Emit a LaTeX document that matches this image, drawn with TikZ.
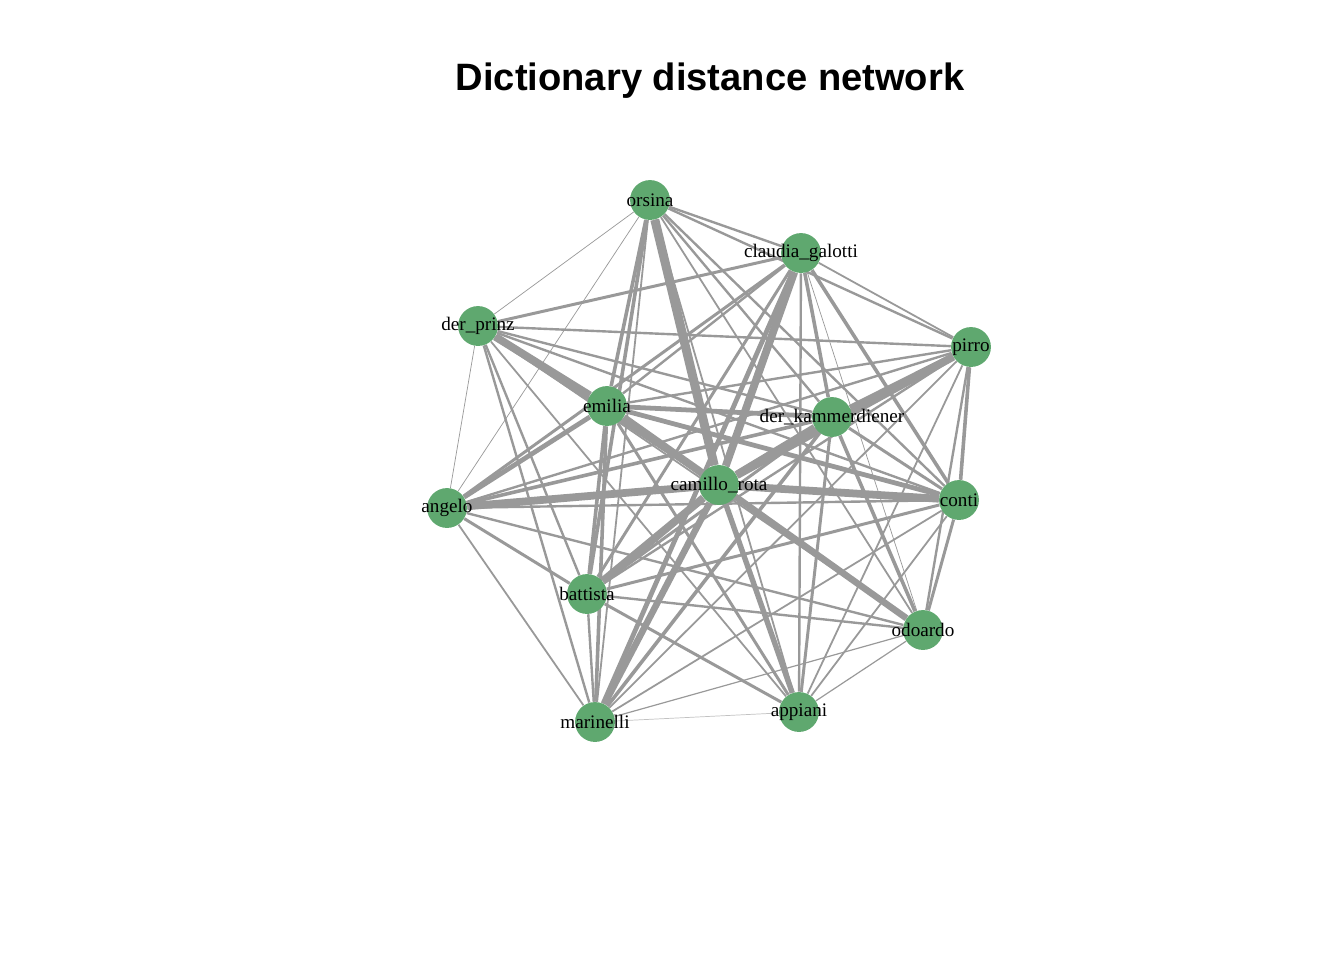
\documentclass[tikz,border=0pt]{standalone}
\usepackage{fontspec}
\setmainfont{Liberation Serif}
\newfontfamily\titlefont{Liberation Sans}
\usepackage{tikz}
\usetikzlibrary{backgrounds,positioning}
\definecolor{vertgreen}{RGB}{95,168,111}
\definecolor{edgegray}{RGB}{153,153,153}
\tikzset{
	vert/.style={circle,inner sep=0,fill=vertgreen,draw=none,minimum size=40*0.567pt},
	vlabel/.style={font=\fontsize{10.9}{12}\selectfont,inner sep=0},
	link/.style={draw=edgegray,line width=#1*0.68pt},
	titlelabel/.style={font=\titlefont\bfseries\fontsize{21.7}{24}\selectfont}
}
\begin{document}
\begin{tikzpicture}[x=0.02cm,y=-0.02cm]
\useasboundingbox (0,0) rectangle (1344,960);

\node[titlelabel] (title) at (710,81) {Dictionary distance network};

    \node[vert,label={[vlabel]center:orsina}] (O) at (650,200) {};
    \node[vert,label={[vlabel]center:claudia\_galotti}] (C) at (801,253) {};
    \node[vert,label={[vlabel]center:der\_prinz}] (P) at (478,326) {};
    \node[vert,label={[vlabel]center:pirro}] (Pi) at (971,347) {};
    \node[vert,label={[vlabel]center:emilia}] (E) at (607,406) {};
    \node[vert,label={[vlabel]center:der\_kammerdiener}] (K) at (832,417) {};
    \node[vert,label={[vlabel]center:camillo\_rota}] (R) at (719,485) {};
    \node[vert,label={[vlabel]center:angelo}] (A) at (447,508) {};
    \node[vert,label={[vlabel]center:conti}] (Co) at (959,500) {};
    \node[vert,label={[vlabel]center:battista}] (B) at (587,594) {};
    \node[vert,label={[vlabel]center:odoardo}] (Od) at (923,630) {};
    \node[vert,label={[vlabel]center:marinelli}] (M) at (595,722) {};
    \node[vert,label={[vlabel]center:appiani}] (Ap) at (799,712) {};

\begin{scope}[on background layer]
    % orsina
    \draw[link=2] (O) -- (C);
    \draw[link=0.6] (O) -- (P);
    \draw[link=2] (O) -- (Pi);
    \draw[link=3] (O) -- (E);
    \draw[link=2] (O) -- (K);
    \draw[link=7.5] (O) -- (R);
    \draw[link=0.6] (O) -- (A);
    \draw[link=2] (O) -- (Co);
    \draw[link=3] (O) -- (B);
    \draw[link=1.5] (O) -- (Od);
    \draw[link=1.5] (O) -- (M);
    \draw[link=1.5] (O) -- (Ap);
    % claudia_galotti
    \draw[link=2.5] (C) -- (P);
    \draw[link=1.5] (C) -- (Pi);
    \draw[link=2] (C) -- (E);
    \draw[link=3] (C) -- (K);
    \draw[link=6.5] (C) -- (R);
    \draw[link=2.5] (C) -- (A);
    \draw[link=3] (C) -- (Co);
    \draw[link=2.5] (C) -- (B);
    \draw[link=0.6] (C) -- (Od);
    \draw[link=4] (C) -- (M);
    \draw[link=2] (C) -- (Ap);
    % der_prinz
    \draw[link=2] (P) -- (Pi);
    \draw[link=6.5] (P) -- (E);
    \draw[link=2] (P) -- (K);
    \draw[link=4] (P) -- (R);
    \draw[link=0.6] (P) -- (A);
    \draw[link=2] (P) -- (Co);
    \draw[link=2] (P) -- (B);
    \draw[link=1.5] (P) -- (Od);
    \draw[link=2] (P) -- (M);
    \draw[link=1.5] (P) -- (Ap);
    % pirro
    \draw[link=2] (Pi) -- (E);
    \draw[link=5] (Pi) -- (K);
    \draw[link=6.5] (Pi) -- (R);
    \draw[link=2] (Pi) -- (A);
    \draw[link=3] (Pi) -- (Co);
    \draw[link=2] (Pi) -- (B);
    \draw[link=2] (Pi) -- (Od);
    \draw[link=1.5] (Pi) -- (M);
    \draw[link=1.5] (Pi) -- (Ap);
    % emilia
    \draw[link=4] (E) -- (K);
    \draw[link=6.5] (E) -- (R);
    \draw[link=4] (E) -- (A);
    \draw[link=4] (E) -- (Co);
    \draw[link=3] (E) -- (B);
    \draw[link=2] (E) -- (Od);
    \draw[link=3] (E) -- (M);
    \draw[link=2.5] (E) -- (Ap);
    % der_kammerdiener
    \draw[link=6] (K) -- (R);
    \draw[link=3] (K) -- (A);
    \draw[link=2.5] (K) -- (Co);
    \draw[link=2.5] (K) -- (B);
    \draw[link=3] (K) -- (Od);
    \draw[link=3] (K) -- (M);
    \draw[link=2.5] (K) -- (Ap);
    % camillo_rota
    \draw[link=6.5] (R) -- (A);
    \draw[link=6.5] (R) -- (Co);
    \draw[link=6.5] (R) -- (B);
    \draw[link=5.5] (R) -- (Od);
    \draw[link=5.5] (R) -- (M);
    \draw[link=4.5] (R) -- (Ap);
    % angelo
    \draw[link=2] (A) -- (Co);
    \draw[link=2.5] (A) -- (B);
    \draw[link=2] (A) -- (Od);
    \draw[link=1.5] (A) -- (M);
    % conti
    \draw[link=2.5] (Co) -- (B);
    \draw[link=2.5] (Co) -- (Od);
    \draw[link=1.5] (Co) -- (M);
    \draw[link=1.5] (Co) -- (Ap);
    % battista
    \draw[link=2] (B) -- (Od);
    \draw[link=2] (B) -- (M);
    \draw[link=2.5] (B) -- (Ap);
    % odoardo, marinelli
    \draw[link=1] (Od) -- (M);
    \draw[link=1] (Od) -- (Ap);
    \draw[link=0.6,draw=edgegray!60] (M) -- (Ap);
\end{scope}
\end{tikzpicture}
\end{document}
